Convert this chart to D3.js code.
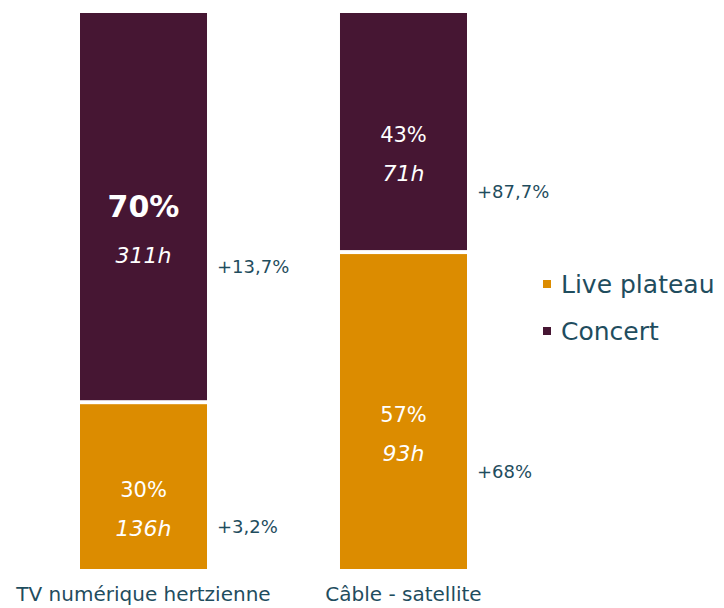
<!DOCTYPE html>
<html><head><meta charset="utf-8">
<script src="https://cdn.jsdelivr.net/npm/d3@7"></script>
<style>body{margin:0;background:#fff}svg{display:block}text{font-family:"DejaVu Sans",sans-serif}</style>
</head><body><svg id="c" width="724" height="608"></svg>
<script>
const categories = ["TV numérique hertzienne", "Câble - satellite"];
const livePct = [30, 57];
const concertPct = [70, 43];
const liveHours = ["136h", "93h"];
const concertHours = ["311h", "71h"];
const liveChange = ["+3,2%", "+68%"];
const concertChange = ["+13,7%", "+87,7%"];
const seriesNames = ["Live plateau", "Concert"];
const colors = ["#DC8C00", "#461633"];
const textColor = "#1F4D5E";

const svg = d3.select("#c");
const x = d3.scaleBand().domain(categories).range([15, 532]).paddingInner(0.5115).paddingOuter(0.25);
const y = d3.scaleLinear().domain([0, 100]).range([569, 13]);
const gap = 2;

categories.forEach((cat, i) => {
  const x0 = x(cat), bw = x.bandwidth(), cx = x0 + bw / 2;
  const segs = [
    {lo: 0, hi: livePct[i], c: colors[0], pct: livePct[i], h: liveHours[i], ch: liveChange[i], bold: false},
    {lo: livePct[i], hi: 100, c: colors[1], pct: concertPct[i], h: concertHours[i], ch: concertChange[i], bold: concertPct[i] >= 70}
  ];
  segs.forEach((s, k) => {
    const top = y(s.hi) + (s.hi < 100 ? gap : 0);
    const bot = y(s.lo) - (s.lo > 0 ? gap : 0);
    svg.append("rect").attr("x", x0).attr("y", top).attr("width", bw).attr("height", bot - top).attr("fill", s.c);
    const mid = (top + bot) / 2;
    svg.append("text").attr("x", cx).attr("y", mid + 10).attr("text-anchor", "middle")
      .attr("fill", "#fff").attr("font-size", s.bold ? 30 : 21).attr("font-weight", s.bold ? 700 : 400)
      .text(s.pct + "%");
    svg.append("text").attr("x", cx).attr("y", mid + (s.bold ? 56 : 49)).attr("text-anchor", "middle")
      .attr("fill", "#fff").attr("font-size", 22).attr("font-style", "italic").text(s.h);
    svg.append("text").attr("x", x0 + bw + 10).attr("y", Math.min(mid + 66, bot - 36))
      .attr("fill", textColor).attr("font-size", 18).text(s.ch);
  });
  svg.append("text").attr("x", cx).attr("y", 601).attr("text-anchor", "middle")
    .attr("fill", textColor).attr("font-size", 20).text(cat);
});

const legY = d3.scalePoint().domain(seriesNames).range([284, 331]);
seriesNames.forEach((n, k) => {
  svg.append("rect").attr("x", 543).attr("y", legY(n) - 4).attr("width", 8).attr("height", 8).attr("fill", colors[k]);
  svg.append("text").attr("x", 561).attr("y", legY(n) + 9).attr("fill", textColor).attr("font-size", 25).text(n);
});
</script></body></html>
